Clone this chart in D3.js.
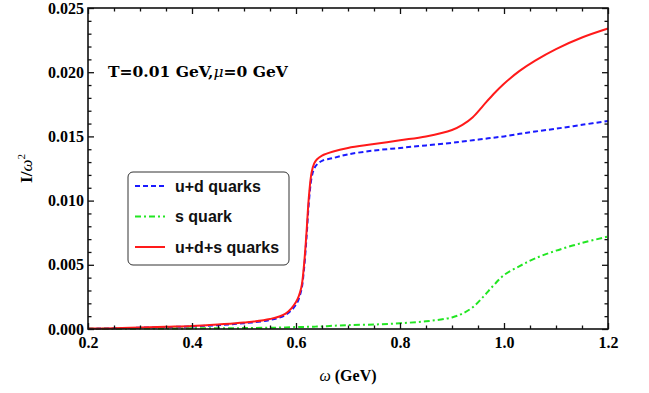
<!DOCTYPE html>
<html>
<head>
<meta charset="utf-8">
<script src="https://cdn.jsdelivr.net/npm/d3@7"></script>
<style>
  body { margin: 0; background: #fff; }
  .tick text { font-family: "Liberation Serif", serif; font-weight: bold; font-size: 16px; fill: #000; }
  .domain { display: none; }
  .tick line { stroke: #111; stroke-width: 1.3; }
</style>
</head>
<body>
<script>
// omega in GeV
const omega = [0.20,0.25,0.30,0.35,0.40,0.45,0.50,0.55,0.58,0.60,0.61,0.615,0.62,0.625,0.63,0.635,0.64,0.65,0.67,0.70,0.75,0.80,0.85,0.90,0.92,0.94,0.96,0.98,1.00,1.03,1.06,1.10,1.15,1.20];

// I / omega^2 for each curve
const udQuarks = [0.00002,0.00005,0.0001,0.00015,0.0002,0.0003,0.00045,0.0007,0.0011,0.0019,0.0030,0.0045,0.0070,0.0100,0.0118,0.0125,0.0128,0.0131,0.0133,0.0136,0.0139,0.0141,0.0143,0.0145,0.0146,0.0147,0.0148,0.0149,0.0150,0.0152,0.01538,0.0156,0.0159,0.0162];
const sQuark = [0.00001,0.00002,0.00003,0.00004,0.00005,0.00006,0.00007,0.0001,0.00012,0.00015,0.00016,0.00016,0.00017,0.00017,0.00018,0.00018,0.00019,0.0002,0.00025,0.0003,0.00035,0.00045,0.0006,0.0009,0.0012,0.0017,0.0025,0.0034,0.0042,0.0049,0.0055,0.0061,0.0067,0.0072];
const udsQuarks = [0.00003,0.00006,0.00011,0.00017,0.00023,0.00035,0.0005,0.00078,0.0012,0.0021,0.0032,0.0048,0.0074,0.0104,0.0122,0.0129,0.0132,0.0135,0.0138,0.0141,0.0144,0.0147,0.0150,0.0155,0.0159,0.0165,0.0174,0.0183,0.0191,0.0201,0.0209,0.0218,0.0227,0.0234];

const xMajor = [0.2,0.4,0.6,0.8,1.0,1.2];
const yMajor = [0.000,0.005,0.010,0.015,0.020,0.025];
const legendNames = ["u+d quarks","s quark","u+d+s quarks"];

const width = 649, height = 393;
const margin = { top: 8, right: 41, bottom: 64, left: 88 };
const w = width - margin.left - margin.right;
const h = height - margin.top - margin.bottom;

const svg = d3.select("body").append("svg")
  .attr("width", width)
  .attr("height", height);

const g = svg.append("g")
  .attr("transform", "translate(" + margin.left + "," + margin.top + ")");

const x = d3.scaleLinear().domain([0.2, 1.2]).range([0, w]);
const y = d3.scaleLinear().domain([0, 0.025]).range([h, 0]);

// minor ticks, skip the majors
const xMinor = d3.range(0.2, 1.2001, 0.05).filter(v => Math.abs(v * 5 - Math.round(v * 5)) > 1e-6);
const yMinor = d3.range(0, 0.02501, 0.001).filter(v => Math.abs(v * 200 - Math.round(v * 200)) > 1e-6);

// curves
const series = [
  { vals: udQuarks, color: "#1a1aff", dash: "5,3" },
  { vals: sQuark, color: "#22e622", dash: "6,3,2,3" },
  { vals: udsQuarks, color: "#ff1a1a", dash: null }
];

const line = d3.line()
  .x(d => x(d[0]))
  .y(d => y(d[1]))
  .curve(d3.curveCatmullRom.alpha(0.5));

series.forEach(s => {
  g.append("path")
    .datum(omega.map((o, i) => [o, s.vals[i]]))
    .attr("fill", "none")
    .attr("stroke", s.color)
    .attr("stroke-width", 2)
    .attr("stroke-dasharray", s.dash)
    .attr("d", line);
});

// frame with inward ticks on all four sides
g.append("g").attr("transform", "translate(0," + h + ")")
  .call(d3.axisBottom(x).tickValues(xMinor).tickSize(-3.5).tickFormat(""));
g.append("g").attr("transform", "translate(0," + h + ")")
  .call(d3.axisBottom(x).tickValues(xMajor).tickSize(-6).tickPadding(8).tickFormat(d3.format(".1f")));
g.append("g")
  .call(d3.axisTop(x).tickValues(xMinor).tickSize(-3.5).tickFormat(""));
g.append("g")
  .call(d3.axisTop(x).tickValues(xMajor).tickSize(-6).tickFormat(""));

g.append("g")
  .call(d3.axisLeft(y).tickValues(yMinor).tickSize(-3.5).tickFormat(""));
g.append("g")
  .call(d3.axisLeft(y).tickValues(yMajor).tickSize(-6).tickPadding(4).tickFormat(d3.format(".3f")));
g.append("g").attr("transform", "translate(" + w + ",0)")
  .call(d3.axisRight(y).tickValues(yMinor).tickSize(-3.5).tickFormat(""));
g.append("g").attr("transform", "translate(" + w + ",0)")
  .call(d3.axisRight(y).tickValues(yMajor).tickSize(-6).tickFormat(""));

g.append("rect")
  .attr("width", w).attr("height", h)
  .attr("fill", "none")
  .attr("stroke", "#111")
  .attr("stroke-width", 1.6);

// axis labels
svg.append("text")
  .attr("x", margin.left + w / 2)
  .attr("y", 381)
  .attr("text-anchor", "middle")
  .style("font-family", "Liberation Serif, serif")
  .style("font-weight", "bold")
  .style("font-size", "16px")
  .html('<tspan font-style="italic" font-weight="normal">ω</tspan> (GeV)');

svg.append("text")
  .attr("transform", "translate(32," + (margin.top + h / 2) + ") rotate(-90)")
  .attr("text-anchor", "middle")
  .style("font-family", "Liberation Serif, serif")
  .style("font-weight", "bold")
  .style("font-size", "17px")
  .html('I/<tspan font-style="italic" font-weight="normal">ω</tspan><tspan dy="-7" font-size="11px" font-weight="normal">2</tspan>');

// annotation
svg.append("text")
  .attr("x", 108)
  .attr("y", 77)
  .style("font-family", "DejaVu Serif, serif")
  .style("font-weight", "bold")
  .style("font-size", "15.5px")
  .html('T=0.01 GeV,<tspan font-style="italic" font-weight="normal">μ</tspan>=0 GeV');

// legend
const lg = svg.append("g").attr("transform", "translate(128,172)");
lg.append("rect")
  .attr("width", 161).attr("height", 93)
  .attr("rx", 5)
  .attr("fill", "#fff")
  .attr("stroke", "#333")
  .attr("stroke-width", 1);

legendNames.forEach((name, i) => {
  const yy = 14 + i * 30.5;
  lg.append("line")
    .attr("x1", 7).attr("x2", 37)
    .attr("y1", yy).attr("y2", yy)
    .attr("stroke", series[i].color)
    .attr("stroke-width", 2)
    .attr("stroke-dasharray", series[i].dash);
  lg.append("text")
    .attr("x", 47).attr("y", yy + 5.5)
    .style("font-family", "Liberation Sans, Arial, sans-serif")
    .style("font-weight", "bold")
    .style("font-size", "16px")
    .style("fill", "#111")
    .text(name);
});
</script>
</body>
</html>
